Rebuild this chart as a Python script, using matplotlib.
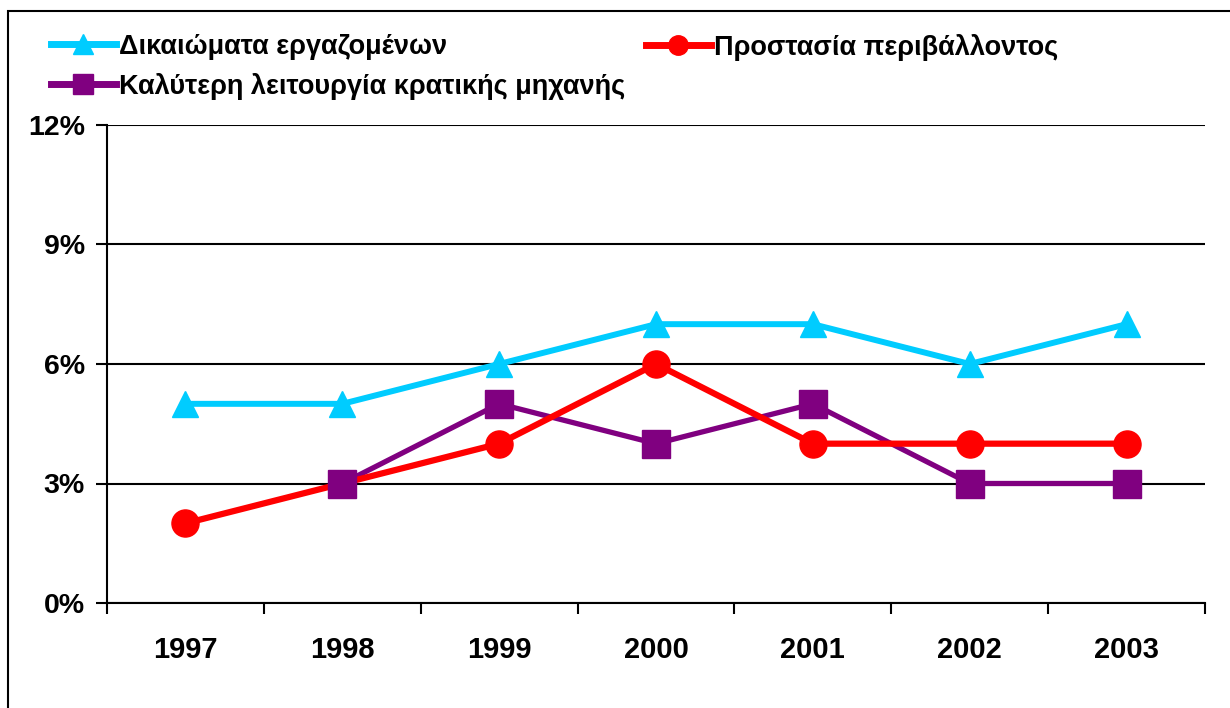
import matplotlib.pyplot as plt
from matplotlib.lines import Line2D
from matplotlib.patches import Rectangle

plt.rcParams['font.family'] = ['Liberation Sans', 'DejaVu Sans']
plt.rcParams['font.weight'] = 'bold'

# ---------------- DATA ----------------
years = ["1997", "1998", "1999", "2000", "2001", "2002", "2003"]
workers_rights = [5, 5, 6, 7, 7, 6, 7]
environment = [2, 3, 4, 6, 4, 4, 4]
state_machine = [None, 3, 5, 4, 5, 3, 3]
y_ticks = [0, 3, 6, 9, 12]

label_workers = "Δικαιώματα εργαζομένων"
label_env = "Προστασία περιβάλλοντος"
label_state = "Καλύτερη λειτουργία κρατικής μηχανής"

CYAN = "#00CCFF"
RED = "#FF0000"
PURPLE = "#800080"

# ---------------- FIGURE ----------------
fig = plt.figure(figsize=(12.3, 7.08), dpi=100)
ax = fig.add_axes([107/1230, 1 - 603/708, 1098/1230, 478/708])

# outer frame (right and bottom edges run off the picture)
fig.patches.append(Rectangle((8/1230, -1), 2, 1 + (1 - 11/708), transform=fig.transFigure,
                             fill=False, edgecolor="black", linewidth=1.5))

x = list(range(len(years)))
xs = [i for i, v in zip(x, state_machine) if v is not None]
vs = [v for v in state_machine if v is not None]

# lines first, then markers on top (as in the original)
ax.plot(x, workers_rights, color=CYAN, lw=4.3, clip_on=False, zorder=3)
ax.plot(xs, vs, color=PURPLE, lw=3.8, clip_on=False, zorder=3)
ax.plot(x, environment, color=RED, lw=4.5, clip_on=False, zorder=3)

ax.plot(x, workers_rights, ls="none", color=CYAN, marker="^", markersize=19,
        clip_on=False, zorder=4)
ax.plot(x, environment, ls="none", color=RED, marker="o", markersize=19.5,
        clip_on=False, zorder=4)
ax.plot(xs, vs, ls="none", color=PURPLE, marker="s", markersize=20,
        clip_on=False, zorder=4)

ax.set_xlim(-0.5, len(years) - 0.5)
ax.set_ylim(0, 12)
ax.set_yticks(y_ticks)
ax.set_yticklabels([f"{t}%" for t in y_ticks])
ax.yaxis.grid(True, color="black", linewidth=1.5)
ax.set_axisbelow(True)

ax.set_xticks([i - 0.5 for i in range(len(years) + 1)])
ax.set_xticklabels([])
ax.set_xticks(x, minor=True)
ax.set_xticklabels(years, minor=True)
ax.tick_params(axis="x", which="major", length=8, width=1.5, direction="out")
ax.tick_params(axis="x", which="minor", length=0, pad=24, labelsize=21)
ax.tick_params(axis="y", length=8, width=1.5, pad=8, labelsize=20.5)

for s in ["top", "right"]:
    ax.spines[s].set_visible(False)
for s in ["left", "bottom"]:
    ax.spines[s].set_linewidth(1.5)

# ---------------- LEGEND ----------------
h_workers = Line2D([], [], color=CYAN, lw=5, marker="^", markersize=15)
h_env = Line2D([], [], color=RED, lw=5, marker="o", markersize=14)
h_state = Line2D([], [], color=PURPLE, lw=5, marker="s", markersize=14)

leg_opts = dict(loc="upper left", frameon=False, fontsize=19.5, handlelength=2.4,
                handletextpad=0.1, labelspacing=0.48, borderaxespad=0)
leg1 = fig.legend(handles=[h_workers, h_state], labels=[label_workers, label_state],
                  bbox_to_anchor=(40/1230, 1 - 23/708), **leg_opts)
fig.legend(handles=[h_env], labels=[label_env],
           bbox_to_anchor=(635/1230, 1 - 23/708), **leg_opts)

fig.savefig("out.png", dpi=100)
